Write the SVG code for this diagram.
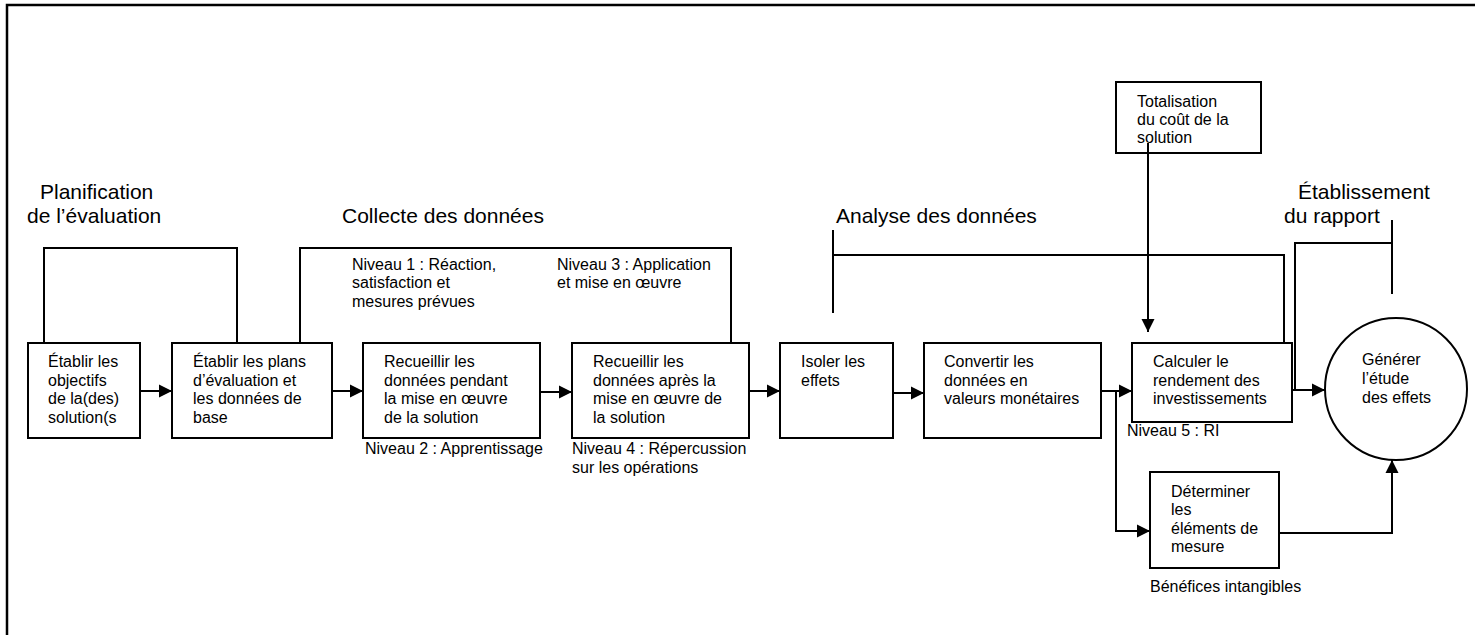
<svg xmlns="http://www.w3.org/2000/svg" width="1475" height="635" viewBox="0 0 1475 635">
<style>
text{font-family:"Liberation Sans",Arial,sans-serif;font-size:16px;fill:#000}
.h{font-size:21px}
.box{fill:#fff;stroke:#000;stroke-width:2}
.ln{fill:none;stroke:#000;stroke-width:2}
</style>
<defs>
<marker id="ah" markerUnits="userSpaceOnUse" markerWidth="14" markerHeight="14" refX="13" refY="7" orient="auto"><path d="M0,0.5 L13,7 L0,13.5 z" fill="#000"/></marker>
</defs>
<rect x="0" y="0" width="1475" height="635" fill="#fff"/>
<rect x="7" y="5" width="1500" height="700" fill="none" stroke="#000" stroke-width="2.5"/>
<g id="headings">
<text class="h" x="40" y="199">Planification</text>
<text class="h" x="27" y="223">de l’évaluation</text>
<text class="h" x="342" y="223">Collecte des données</text>
<text class="h" x="836" y="223">Analyse des données</text>
<text class="h" x="1298" y="199">Établissement</text>
<text class="h" x="1284" y="223">du rapport</text>
</g>
<g id="labels">
<text x="352" y="270">Niveau 1 : Réaction,</text>
<text x="352" y="288">satisfaction et</text>
<text x="352" y="307">mesures prévues</text>
<text x="557" y="270">Niveau 3 : Application</text>
<text x="557" y="288">et mise en œuvre</text>
<text x="365" y="454">Niveau 2 : Apprentissage</text>
<text x="572" y="454">Niveau 4 : Répercussion</text>
<text x="572" y="473">sur les opérations</text>
<text x="1127" y="436">Niveau 5 : RI</text>
<text x="1150" y="592">Bénéfices intangibles</text>
</g>
<g id="connectors">
<path class="ln" d="M44,343 V248 H237 V343"/>
<path class="ln" d="M300,343 V248 H731 V343"/>
<path class="ln" d="M833,230 V313 M833,255 H1284 V343"/>
<path class="ln" d="M1392,220 V294 M1392,243 H1295 V390"/>
<path class="ln" d="M140,391 H172" marker-end="url(#ah)"/>
<path class="ln" d="M332,391 H363" marker-end="url(#ah)"/>
<path class="ln" d="M540,392 H572" marker-end="url(#ah)"/>
<path class="ln" d="M749,391 H780" marker-end="url(#ah)"/>
<path class="ln" d="M893,393 H924" marker-end="url(#ah)"/>
<path class="ln" d="M1101,391 H1132" marker-end="url(#ah)"/>
<path class="ln" d="M1116,391 V531 H1150" marker-end="url(#ah)"/>
<path class="ln" d="M1148,143 V332" marker-end="url(#ah)"/>
<path class="ln" d="M1292,390 H1325" marker-end="url(#ah)"/>
<path class="ln" d="M1279,533 H1392 V460" marker-end="url(#ah)"/>
</g>
<g id="n1">
<rect class="box" x="28" y="343" width="112" height="95"/>
<text x="48" y="367">Établir les</text>
<text x="48" y="386">objectifs</text>
<text x="48" y="404">de la(des)</text>
<text x="48" y="423">solution(s</text>
</g>
<g id="n2">
<rect class="box" x="172" y="343" width="160" height="95"/>
<text x="193" y="367">Établir les plans</text>
<text x="193" y="386">d’évaluation et</text>
<text x="193" y="404">les données de</text>
<text x="193" y="423">base</text>
</g>
<g id="n3">
<rect class="box" x="363" y="343" width="177" height="95"/>
<text x="384" y="367">Recueillir les</text>
<text x="384" y="386">données pendant</text>
<text x="384" y="404">la mise en œuvre</text>
<text x="384" y="423">de la solution</text>
</g>
<g id="n4">
<rect class="box" x="572" y="343" width="177" height="95"/>
<text x="593" y="367">Recueillir les</text>
<text x="593" y="386">données après la</text>
<text x="593" y="404">mise en œuvre de</text>
<text x="593" y="423">la solution</text>
</g>
<g id="n5">
<rect class="box" x="780" y="343" width="113" height="95"/>
<text x="801" y="367">Isoler les</text>
<text x="801" y="386">effets</text>
</g>
<g id="n6">
<rect class="box" x="924" y="343" width="177" height="95"/>
<text x="944" y="367">Convertir les</text>
<text x="944" y="386">données en</text>
<text x="944" y="404">valeurs monétaires</text>
</g>
<g id="n7">
<rect class="box" x="1132" y="343" width="160" height="79"/>
<text x="1153" y="367">Calculer le</text>
<text x="1153" y="386">rendement des</text>
<text x="1153" y="404">investissements</text>
</g>
<g id="n8">
<rect class="box" x="1150" y="472" width="129" height="96"/>
<text x="1171" y="497">Déterminer</text>
<text x="1171" y="515">les</text>
<text x="1171" y="534">éléments de</text>
<text x="1171" y="552">mesure</text>
</g>
<g id="n9">
<rect class="box" x="1116" y="82" width="145" height="71"/>
<text x="1137" y="107">Totalisation</text>
<text x="1137" y="125">du coût de la</text>
<text x="1137" y="143">solution</text>
</g>
<g id="n10">
<circle class="box" cx="1396" cy="389" r="71"/>
<text x="1362" y="365">Générer</text>
<text x="1362" y="384">l’étude</text>
<text x="1362" y="403">des effets</text>
</g>
<path class="ln" d="M1148,143 V153"/>
</svg>
